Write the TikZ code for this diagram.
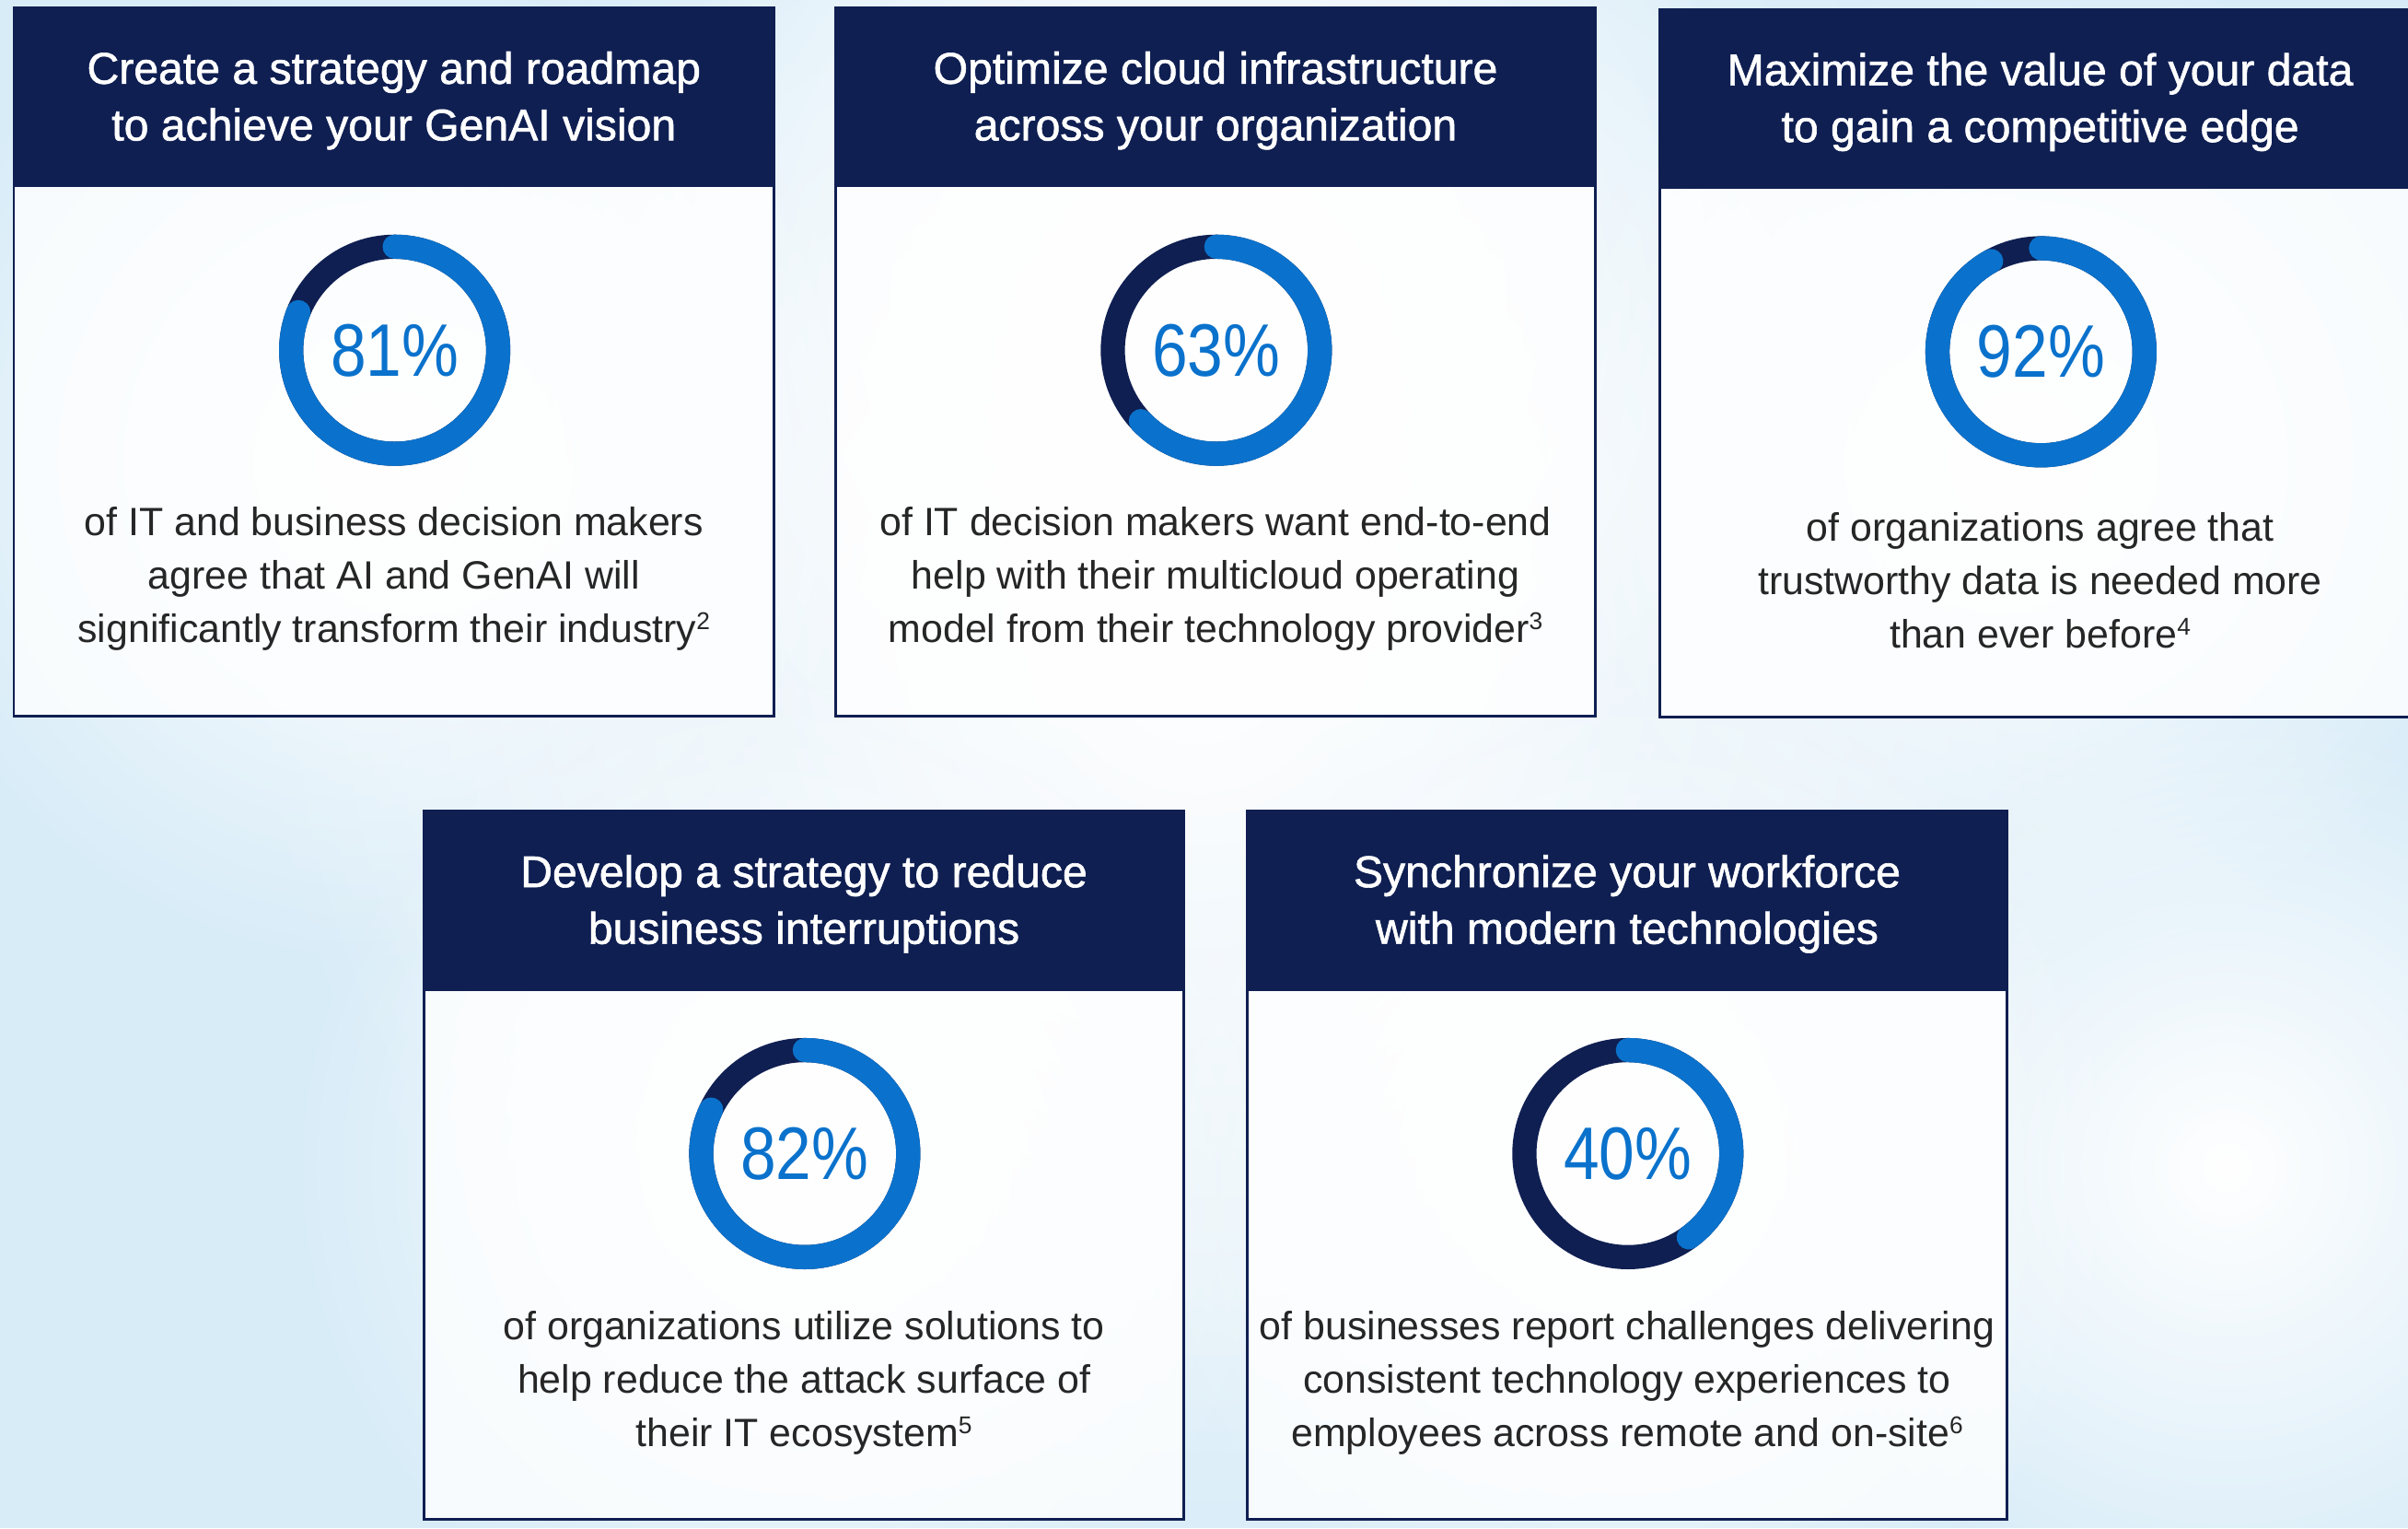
\documentclass[tikz,border=0pt]{standalone}
\usepackage{fontspec}
\setmainfont{Liberation Sans}
\newfontfamily\hdrfont[FakeBold=1.3]{Liberation Sans}
\newfontfamily\pctfont[FakeStretch=0.86]{Liberation Sans}
\usetikzlibrary{fadings}
\definecolor{navy}{HTML}{0F1F52}
\definecolor{ringblue}{HTML}{0A72CC}
\definecolor{bodytxt}{HTML}{262626}
\definecolor{bgblue}{HTML}{D8ECF8}
\tikzfading[name=softblob, inner color=transparent!0, outer color=transparent!100]
\newcommand{\fnref}[1]{\raisebox{0.62ex}{\fontsize{7.5}{7.5}\selectfont #1}}
\tikzset{
  cardline/.style={draw=navy, line width=0.8pt},
  headtxt/.style={text=white, font=\hdrfont\fontsize{13.7}{17.5}\selectfont, align=center},
  bodytext/.style={text=bodytxt, font=\fontsize{12.2}{16.5}\selectfont, align=center},
  pcttext/.style={text=ringblue, font=\pctfont\fontsize{23}{23}\selectfont},
  ringbase/.style={draw=navy, line width=7.47pt},
  ringval/.style={draw=ringblue, line width=7.47pt, line cap=round},
  blob/.style={fill=white, path fading=softblob},
}
\newcommand{\statcard}[6]{%
  \fill[white, opacity=0.8] (#2,#3) rectangle ++(495,461);
  \fill[navy] (#2,#3) rectangle ++(495,117);
  \draw[cardline] (#2,#3) rectangle ++(495,461);
  \node[headtxt] (#1-head) at (#2+247.5,#3+60.5) {#4};
  \begin{scope}[shift={(#2+248,#3+223)}, x=1cm, y=1cm]
    \draw[ringbase] (0,0) circle (1.124);
    \draw[ringval] (90:1.124) arc[start angle=90, delta angle=-3.6*#5, radius=1.124];
    \node[pcttext] (#1-pct) at (0,0) {#5\%};
  \end{scope}
  \node[bodytext] (#1-body) at (#2+247.5,#3+372) {#6};
}
\begin{document}
\begin{tikzpicture}[x=0.016677cm, y=-0.016677cm]
\useasboundingbox (0,0) rectangle (1568,995);
\clip (0,0) rectangle (1568,995);
% background
\fill[bgblue] (0,0) rectangle (1568,995);
\path[blob] (780,420) circle (620);
\path[blob] (250,300) circle (330);
\path[blob] (1320,300) circle (330);
\path[blob] (1450,760) circle (300);
\path[blob] (520,760) circle (330);
\path[blob] (1060,760) circle (330);
\path[blob] (780,200) circle (400);
% cards
\statcard{c1}{9}{5}{Create a strategy and roadmap\\to achieve your GenAI vision}{81}{of IT and business decision makers\\agree that AI and GenAI will\\significantly transform their industry\fnref{2}}
\statcard{c2}{544}{5}{Optimize cloud infrastructure\\across your organization}{63}{of IT decision makers want end-to-end\\help with their multicloud operating\\model from their technology provider\fnref{3}}
\statcard{c3}{1081}{6}{Maximize the value of your data\\to gain a competitive edge}{92}{of organizations agree that\\trustworthy data is needed more\\than ever before\fnref{4}}
\statcard{c4}{276}{528}{Develop a strategy to reduce\\business interruptions}{82}{of organizations utilize solutions to\\help reduce the attack surface of\\their IT ecosystem\fnref{5}}
\statcard{c5}{812}{528}{Synchronize your workforce\\with modern technologies}{40}{of businesses report challenges delivering\\consistent technology experiences to\\employees across remote and on-site\fnref{6}}
\end{tikzpicture}
\end{document}
